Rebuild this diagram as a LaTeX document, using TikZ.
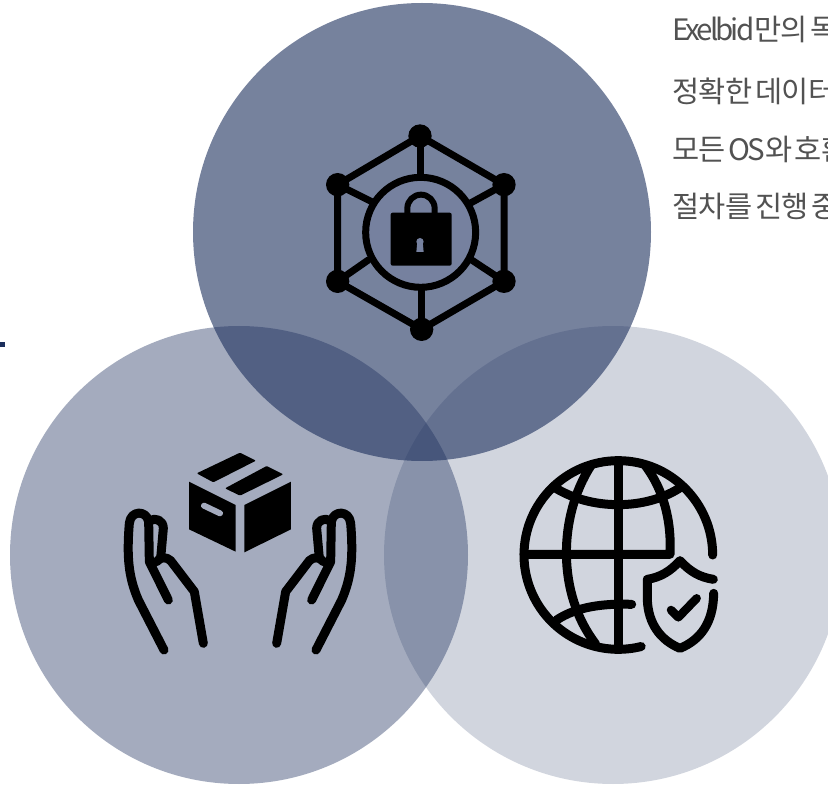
\documentclass[tikz,border=0pt]{standalone}
\usepackage{fontspec}
\setmainfont{Noto Sans CJK KR}[LetterSpace=-2,WordSpace=0.45]
\newfontfamily\latinfont{Noto Sans CJK KR}[LetterSpace=-10,WordSpace=0.45]
\definecolor{navy}{HTML}{1B2E5C}
\definecolor{topbg}{HTML}{76819F}
\definecolor{leftbg}{HTML}{A4ABBE}
\tikzset{
  disc/.style={circle,fill=navy,inner sep=0pt,minimum size=458pt},
  icon/.style={black,line width=#1,line cap=round,line join=round},
  txt/.style={anchor=base west,inner sep=0pt,text=black!68,font=\fontsize{29.5}{29.5}\selectfont}
}
\begin{document}
\begin{tikzpicture}[x=1pt,y=-1pt]
\useasboundingbox (0,0) rectangle (828,786);
\begin{scope}
  \clip (0,0) rectangle (828,786);
  \node[disc,fill opacity=0.2] (globedisc) at (613,555) {};
  \node[disc,fill opacity=0.4] (handdisc) at (239,555) {};
  \node[disc,fill opacity=0.6] (lockdisc) at (422,232) {};
  \fill[navy] (0,342) rectangle (5,347);
  \node[txt] (line1) at (672,41) {{\latinfont Exelbid}만의 독};
  \node[txt] (line2) at (672,103) {정확한 데이터};
  \node[txt] (line3) at (672,161) {모든 {\latinfont OS}와 호환};
  \node[txt] (line4) at (672,218) {절차를 진행 중};
\end{scope}
% lock
\begin{scope}[shift={(300,100)},scale=1/3]
  \draw[icon=7pt] (360,108) -- (612,254) -- (612,544) -- (365,688) -- (113,544) -- (113,254) -- cycle;
  \draw[icon=7pt] (360,108) -- (360,230);
  \draw[icon=7pt] (612,254) -- (510,310);
  \draw[icon=7pt] (612,544) -- (515,480);
  \draw[icon=7pt] (365,688) -- (365,565);
  \draw[icon=7pt] (113,544) -- (205,480);
  \draw[icon=7pt] (113,254) -- (215,305);
  \draw[icon=7pt,fill=topbg] (362,397) circle (165);
  \fill[black,rounded corners=2pt] (272,338) rectangle (455,497);
  \draw[icon=6pt] (322,338) -- (322,325) arc[start angle=180,end angle=360,radius=41] -- (404,338);
  \fill[topbg] (360,425) circle (11);
  \fill[topbg] (352,425) -- (368,425) -- (371,456) -- (349,456) -- cycle;
  \fill (360,108) circle (35);
  \fill (612,254) circle (35);
  \fill (612,544) circle (35);
  \fill (365,688) circle (35);
  \fill (113,544) circle (35);
  \fill (113,254) circle (35);
\end{scope}
% box and hands
\begin{scope}[shift={(100,430)},scale=1/3]
  \fill[rounded corners=1pt] (290,130) -- (420,68) -- (468,92) -- (340,157) -- cycle;
  \fill[rounded corners=1pt] (375,175) -- (500,108) -- (550,133) -- (420,197) -- cycle;
  \fill (267,155) -- (407,225) -- (407,365) -- (267,298) -- cycle;
  \fill (433,225) -- (573,155) -- (573,298) -- (433,367) -- cycle;
  \draw[leftbg,line width=6pt,line cap=round] (312,227) -- (360,250);
  \foreach \side/\mid in {1/0,-1/840}{
    \begin{scope}[shift={(\mid,0)},xscale=\side]
      \draw[icon=9pt] (192,660) -- (115,510) .. controls (85,440) and (80,380) .. (88,280)
        .. controls (92,240) and (140,240) .. (146,275) -- (148,395) -- (205,510);
      \draw[icon=9pt] (150,272) .. controls (165,262) and (190,270) .. (190,295) -- (182,385);
      \draw[icon=9pt] (170,395) .. controls (180,380) and (200,380) .. (212,392) -- (283,485) -- (310,640);
    \end{scope}
  }
\end{scope}
% globe and shield
\begin{scope}[shift={(500,440)},scale=1/3]
  \draw[icon=9pt] (638,345) arc[start angle=0,end angle=-284,radius=283];
  \draw[icon=9pt] (355,62) -- (355,625);
  \draw[icon=9pt] (72,343) -- (510,343) .. controls (515,240) and (490,150) .. (437,78);
  \draw[icon=9pt] (272,78) .. controls (175,230) and (170,460) .. (287,612);
  \draw[icon=9pt] (160,140) .. controls (270,212) and (440,212) .. (545,140);
  \draw[icon=9pt] (170,540) .. controls (230,500) and (310,490) .. (395,493);
  \draw[icon=9pt] (640,418) .. controls (600,412) and (570,395) .. (540,362)
    .. controls (510,395) and (480,412) .. (442,418) -- (442,480)
    .. controls (445,550) and (480,600) .. (540,625)
    .. controls (600,600) and (640,550) .. (641,460);
  \draw[icon=8.5pt] (513,510) -- (535,532) -- (590,475);
\end{scope}
\end{tikzpicture}
\end{document}
